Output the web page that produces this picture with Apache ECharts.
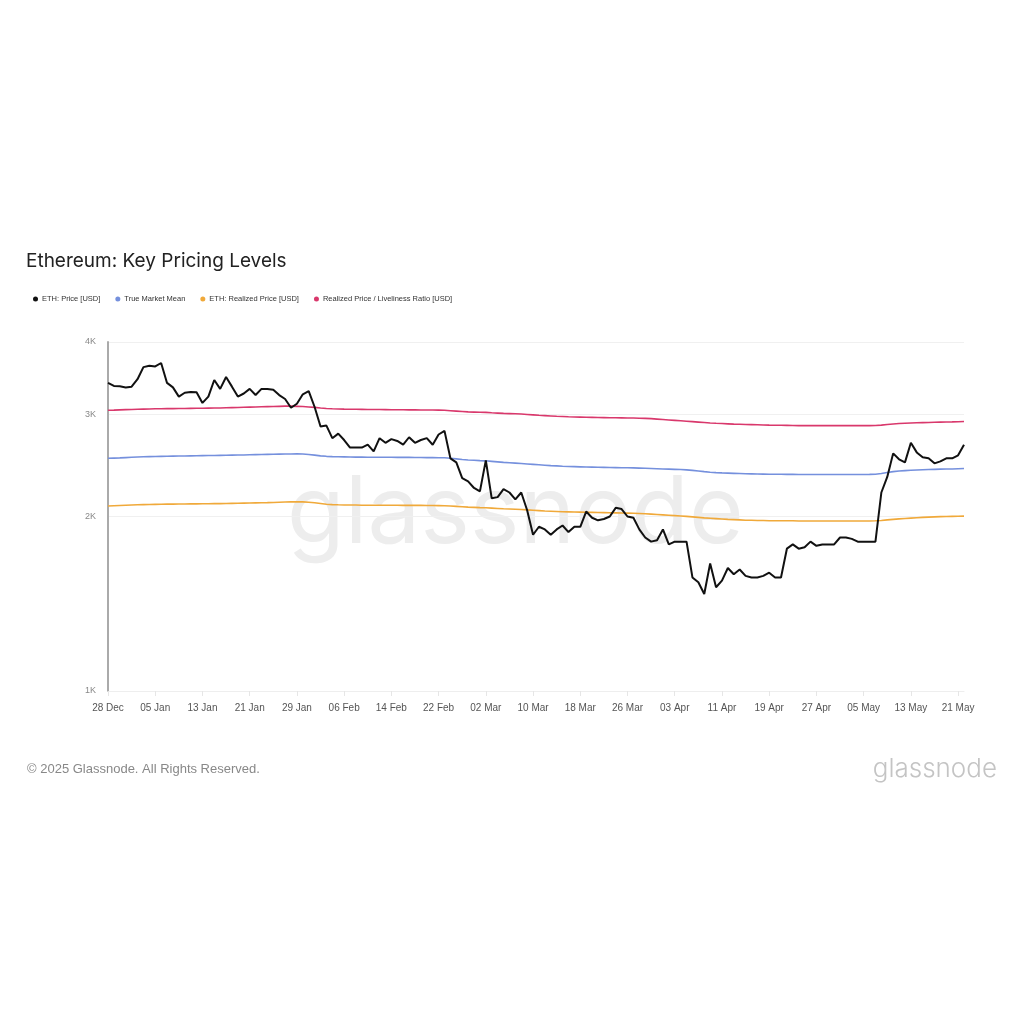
<!DOCTYPE html>
<html>
<head>
<meta charset="utf-8">
<script src="https://cdn.jsdelivr.net/npm/echarts@6/dist/echarts.min.js"></script>
<style>
  html, body { margin: 0; padding: 0; background: #fff; }
  #chart { width: 1024px; height: 1024px; }
</style>
</head>
<body>
<div id="chart"></div>
<script>
// daily dates, 28 Dec 2024 .. 22 May 2025
const startDate = new Date(Date.UTC(2024, 11, 28));
const dayCount = 146;
const months = ["Jan", "Feb", "Mar", "Apr", "May", "Jun", "Jul", "Aug", "Sep", "Oct", "Nov", "Dec"];
const dates = [];
for (let i = 0; i < dayCount; i++) {
  const d = new Date(startDate.getTime() + i * 86400000);
  dates.push(String(d.getUTCDate()).padStart(2, "0") + " " + months[d.getUTCMonth()]);
}

const yTicks = [1000, 2000, 3000, 4000];

const ethPrice = [
  3400, 3360, 3355, 3340,
  3350, 3450, 3620, 3640, 3630, 3680, 3400,
  3340, 3220, 3270, 3280, 3275, 3140, 3220,
  3440, 3320, 3480, 3350, 3220, 3260, 3320,
  3240, 3320, 3320, 3310, 3240, 3190, 3080,
  3130, 3250, 3290, 3090, 2860, 2870, 2730,
  2780, 2710, 2630, 2630, 2630, 2660, 2590,
  2730, 2680, 2720, 2700, 2660, 2740, 2680,
  2710, 2730, 2660, 2770, 2810, 2520, 2480,
  2330, 2300, 2240, 2210, 2500, 2150, 2160,
  2230, 2200, 2140, 2200, 2050, 1860, 1920,
  1900, 1860, 1900, 1930, 1880, 1920, 1920,
  2040, 1990, 1970, 1980, 2000, 2070, 2060,
  2000, 1990, 1900, 1840, 1810, 1820, 1900,
  1790, 1810, 1810, 1810, 1570, 1540, 1470,
  1660, 1510, 1550, 1630, 1590, 1620, 1580,
  1570, 1570, 1580, 1600, 1570, 1570, 1760,
  1790, 1760, 1770, 1810, 1780, 1790, 1790,
  1790, 1840, 1840, 1830, 1810, 1810, 1810,
  1810, 2200, 2340, 2570, 2510, 2480, 2680,
  2580, 2530, 2520, 2470, 2490, 2520, 2520,
  2550, 2660
];

const trueMarketMean = [
  2520, 2522, 2524, 2527, 2530, 2533, 2535,
  2537, 2539, 2540, 2541, 2542, 2543, 2544,
  2545, 2546, 2547, 2548, 2549, 2550, 2551,
  2552, 2553, 2554, 2556, 2557, 2558, 2560,
  2561, 2562, 2563, 2564, 2565, 2563, 2558,
  2552, 2545, 2540, 2537, 2535, 2534, 2533,
  2532, 2532, 2531, 2531, 2530, 2530, 2530,
  2529, 2529, 2529, 2528, 2528, 2527, 2527,
  2526, 2525, 2520, 2514, 2508, 2503, 2500,
  2497, 2495, 2490, 2485, 2480, 2476, 2472,
  2468, 2464, 2460, 2456, 2452, 2448, 2445,
  2442, 2440, 2438, 2436, 2434, 2433, 2432,
  2431, 2430, 2429, 2428, 2427, 2426, 2424,
  2422, 2420, 2418, 2416, 2414, 2412, 2410,
  2407, 2402, 2396, 2390, 2385, 2381, 2378,
  2376, 2374, 2372, 2370, 2369, 2368, 2367,
  2366, 2365, 2365, 2364, 2364, 2363, 2363,
  2363, 2363, 2363, 2363, 2363, 2363, 2363,
  2363, 2363, 2363, 2364, 2366, 2372, 2382,
  2390, 2396, 2400, 2403, 2406, 2408, 2410,
  2412, 2414, 2415, 2416, 2418, 2420
];

const realizedPrice = [
  2085, 2087, 2089, 2091, 2093, 2095, 2097,
  2098, 2099, 2100, 2101, 2101, 2102, 2102,
  2103, 2103, 2104, 2104, 2105, 2105, 2106,
  2107, 2108, 2109, 2110, 2111, 2112, 2113,
  2115, 2117, 2119, 2120, 2121, 2120, 2117,
  2112, 2106, 2100, 2097, 2095, 2094, 2093,
  2093, 2092, 2092, 2092, 2091, 2091, 2091,
  2091, 2090, 2090, 2090, 2090, 2089, 2089,
  2088, 2087, 2085, 2082, 2079, 2076, 2074,
  2072, 2071, 2068, 2065, 2062, 2060, 2058,
  2056, 2053, 2050, 2047, 2044, 2042, 2040,
  2038, 2037, 2036, 2035, 2034, 2033, 2032,
  2031, 2030, 2029, 2028, 2027, 2026, 2024,
  2022, 2019, 2016, 2013, 2010, 2007, 2004,
  2001, 1997, 1993, 1989, 1986, 1983, 1980,
  1977, 1975, 1973, 1971, 1970, 1969, 1968,
  1967, 1967, 1966, 1966, 1966, 1965, 1965,
  1965, 1965, 1965, 1965, 1965, 1965, 1965,
  1965, 1965, 1965, 1965, 1966, 1969, 1973,
  1977, 1981, 1984, 1987, 1990, 1993, 1995,
  1997, 1999, 2000, 2001, 2002, 2003
];

const livelinessRatio = [
  3050, 3052, 3055, 3058, 3060, 3062, 3064,
  3066, 3068, 3069, 3070, 3070, 3071, 3072,
  3073, 3074, 3075, 3076, 3077, 3078, 3080,
  3082, 3084, 3086, 3088, 3090, 3092, 3094,
  3096, 3098, 3100, 3100, 3098, 3095, 3090,
  3085, 3078, 3072, 3068, 3066, 3064, 3063,
  3062, 3061, 3060, 3060, 3059, 3058, 3057,
  3056, 3056, 3055, 3055, 3054, 3054, 3053,
  3052, 3050, 3045, 3040, 3035, 3030, 3028,
  3026, 3025, 3020, 3016, 3012, 3010, 3008,
  3005, 3000, 2995, 2990, 2986, 2982, 2978,
  2975, 2972, 2970, 2968, 2966, 2965, 2963,
  2962, 2961, 2960, 2959, 2958, 2957, 2955,
  2953, 2950, 2945, 2940, 2935, 2930, 2925,
  2920, 2915, 2910, 2905, 2900, 2896, 2893,
  2890, 2887, 2885, 2883, 2881, 2879, 2877,
  2875, 2874, 2873, 2872, 2871, 2870, 2870,
  2870, 2870, 2870, 2870, 2870, 2870, 2870,
  2870, 2870, 2870, 2870, 2871, 2875, 2882,
  2888, 2893, 2897, 2900, 2902, 2904, 2906,
  2908, 2910, 2911, 2912, 2914, 2916
];

const chart = echarts.init(document.getElementById("chart"));

const lineSeries = (name, data, color, width, z) => ({
  name: name,
  type: "line",
  data: data,
  symbol: "none",
  z: z,
  lineStyle: { color: color, width: width },
  itemStyle: { color: color }
});

const option = {
  animation: false,
  backgroundColor: "#fff",
  textStyle: { fontFamily: "Liberation Sans, Arial, sans-serif" },
  title: {
    text: "Ethereum: Key Pricing Levels",
    left: 21,
    top: 247,
    textStyle: { fontFamily: "Inter, Roboto, sans-serif", fontSize: 19, fontWeight: "normal", color: "#222" }
  },
  legend: {
    left: 28,
    top: 290,
    icon: "circle",
    itemWidth: 5,
    itemHeight: 5,
    itemGap: 15,
    textStyle: { fontSize: 7.5, color: "#333", padding: [0, 0, 0, -1] },
    data: ["ETH: Price [USD]", "True Market Mean", "ETH: Realized Price [USD]", "Realized Price / Liveliness Ratio [USD]"]
  },
  grid: { left: 108, right: 60, top: 342, bottom: 333, containLabel: false },
  xAxis: {
    type: "category",
    data: dates,
    boundaryGap: false,
    axisLine: { lineStyle: { color: "#eeeeee" } },
    axisTick: { show: true, interval: 7, length: 5, lineStyle: { color: "#e6e6e6" } },
    axisLabel: { interval: 7, color: "#555", fontSize: 10, margin: 12 },
    splitLine: { show: false }
  },
  yAxis: {
    type: "log",
    logBase: 10,
    min: 1000,
    max: 4000,
    axisLine: { show: true, lineStyle: { color: "#aaaaaa", width: 2 } },
    axisTick: { show: false, customValues: yTicks },
    axisLabel: {
      customValues: yTicks,
      color: "#888",
      fontSize: 9,
      margin: 12,
      formatter: v => Math.round(v / 1000) + "K"
    },
    splitLine: { show: true, lineStyle: { color: "#f0f0f0", width: 1 } }
  },
  graphic: [
    {
      type: "text",
      left: 287,
      top: 468,
      z: -10,
      silent: true,
      style: { text: "glassnode", font: "400 94px Inter, Roboto, sans-serif", fill: "#ededed" }
    },
    {
      type: "text",
      left: 27,
      top: 763,
      style: { text: "© 2025 Glassnode. All Rights Reserved.", font: "13px Liberation Sans, Arial, sans-serif", fill: "#888" }
    },
    {
      type: "text",
      right: 27,
      top: 756,
      style: { text: "glassnode", font: "300 26px Inter, Roboto, sans-serif", fill: "#c4c4c4" }
    }
  ],
  series: [
    lineSeries("Realized Price / Liveliness Ratio [USD]", livelinessRatio, "#d9386c", 1.6, 3),
    lineSeries("True Market Mean", trueMarketMean, "#7590dd", 1.6, 3),
    lineSeries("ETH: Realized Price [USD]", realizedPrice, "#f0a93a", 1.6, 3),
    lineSeries("ETH: Price [USD]", ethPrice, "#111111", 2, 5)
  ]
};

chart.setOption(option);
</script>
</body>
</html>
